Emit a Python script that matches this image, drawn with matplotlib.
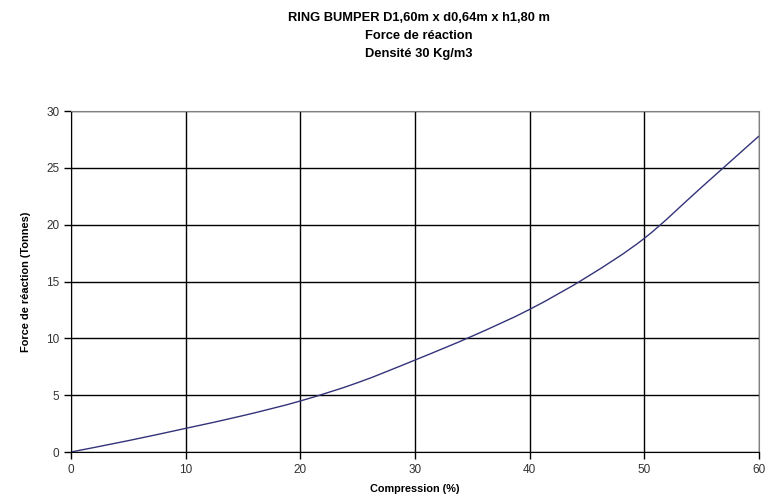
import numpy as np
import matplotlib
matplotlib.use("Agg")
import matplotlib.pyplot as plt
from matplotlib.path import Path
from matplotlib.patches import PathPatch

plt.rcParams['font.family'] = ['Liberation Sans', 'DejaVu Sans']

# courbe force de reaction
compression = [0, 5, 10, 15, 20, 25, 30, 35, 40, 45, 50, 55, 60]
force = [0, 1.0, 2.08, 3.2, 4.49, 6.1, 8.09, 10.2, 12.55, 15.4, 18.8, 23.3, 27.8]

title_lines = ["RING BUMPER D1,60m x d0,64m x h1,80 m", "Force de réaction", "Densité 30 Kg/m3"]
xticks = [0, 10, 20, 30, 40, 50, 60]
yticks = [0, 5, 10, 15, 20, 25, 30]

fig = plt.figure(figsize=(7.77, 4.98), dpi=100)
ax = fig.add_axes([71/777, 46/498, 688/777, 341/498])

# ligne lissee (comme Excel) : bezier cubique par les points
pts = np.column_stack([compression, force]).astype(float)
verts = [pts[0]]
codes = [Path.MOVETO]
for i in range(len(pts) - 1):
    p0 = pts[max(i - 1, 0)]
    p1 = pts[i]
    p2 = pts[i + 1]
    p3 = pts[min(i + 2, len(pts) - 1)]
    c1 = p1 + (p2 - p0) / 6.0
    c2 = p2 - (p3 - p1) / 6.0
    verts += [c1, c2, p2]
    codes += [Path.CURVE4] * 3
ax.add_patch(PathPatch(Path(verts, codes), facecolor='none', edgecolor='#33337a', lw=1.0))

ax.set_xlim(0, 60)
ax.set_ylim(0, 30)
ax.set_xticks(xticks)
ax.set_yticks(yticks)
ax.grid(True, color='black', lw=1.0)
ax.set_axisbelow(True)
for s in ['top', 'right']:
    ax.spines[s].set_color('#808080')
for s in ['left', 'bottom']:
    ax.spines[s].set_color('black')
ax.tick_params(direction='out', length=5, width=1, labelsize=8.5, labelcolor='#333333')

ax.set_xlabel("Compression (%)", fontsize=7.8, fontweight='bold', labelpad=6)
ax.set_ylabel("Force de réaction (Tonnes)", fontsize=7.9, fontweight='bold', labelpad=11)

for i, t in enumerate(title_lines):
    fig.text(419/777, 1 - (18 + 18*i)/498, t, ha='center', va='center',
             fontsize=9.3, fontweight='bold')

fig.savefig("out.png", dpi=100)
